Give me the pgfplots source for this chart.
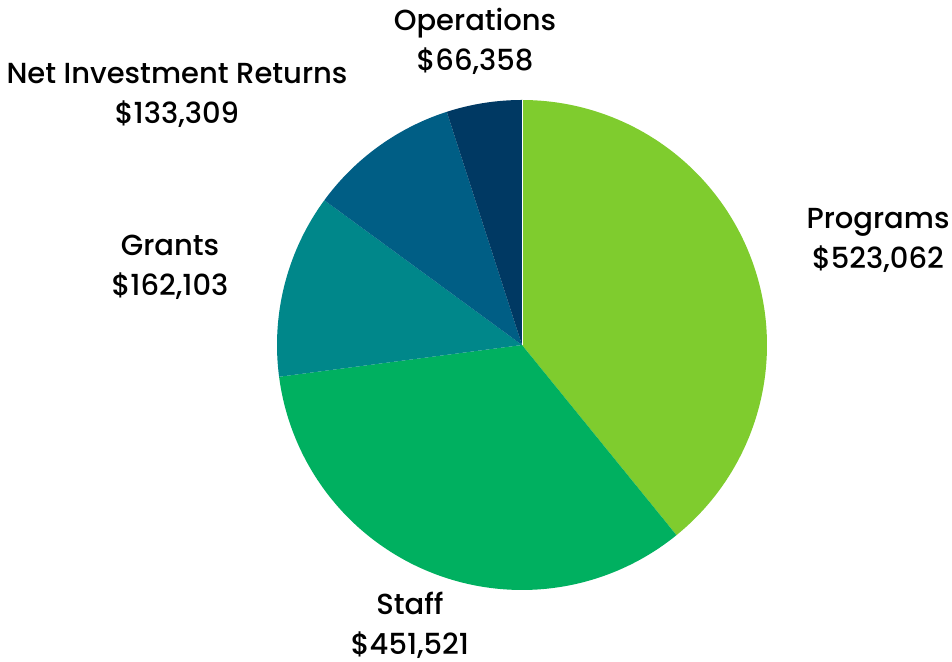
\documentclass[border=0pt]{standalone}
\usepackage{pgfplots}
\pgfplotsset{compat=1.18}
\usepackage{fontspec}
\IfFontExistsTF{Poppins Medium}{\setmainfont{Poppins Medium}}{\setmainfont{Poppins}[FakeBold=0.4]}
\definecolor{cP}{HTML}{7FCC2E}
\definecolor{cS}{HTML}{00B060}
\definecolor{cG}{HTML}{00878A}
\definecolor{cN}{HTML}{005E85}
\definecolor{cO}{HTML}{003963}
% data values
\def\vP{523062}
\def\vS{451521}
\def\vG{162103}
\def\vN{133309}
\def\vO{66358}
\edef\tot{\fpeval{\vP+\vS+\vG+\vN+\vO}}
\edef\aA{\fpeval{90-360*\vP/\tot}}
\edef\aB{\fpeval{\aA-360*\vS/\tot}}
\edef\aC{\fpeval{\aB-360*\vG/\tot}}
\edef\aD{\fpeval{\aC-360*\vN/\tot}}
\edef\aE{\fpeval{\aD-360*\vO/\tot}}
\begin{document}
\begin{tikzpicture}
\begin{axis}[
  width=476pt, height=331pt, scale only axis,
  xmin=0, xmax=952, ymin=0, ymax=662,
  hide axis, clip=false,
]
\path (axis cs:0,0) rectangle (axis cs:952,662);
\addplot[fill=cP, draw=none, domain=\aA:90, samples=100] ({522+245*cos(x)},{317+245*sin(x)}) -- (axis cs:522,317) -- cycle;
\addplot[fill=cS, draw=none, domain=\aB:\aA, samples=100] ({522+245*cos(x)},{317+245*sin(x)}) -- (axis cs:522,317) -- cycle;
\addplot[fill=cG, draw=none, domain=\aC:\aB, samples=50] ({522+245*cos(x)},{317+245*sin(x)}) -- (axis cs:522,317) -- cycle;
\addplot[fill=cN, draw=none, domain=\aD:\aC, samples=50] ({522+245*cos(x)},{317+245*sin(x)}) -- (axis cs:522,317) -- cycle;
\addplot[fill=cO, draw=none, domain=\aE:\aD, samples=30] ({522+245*cos(x)},{317+245*sin(x)}) -- (axis cs:522,317) -- cycle;
\addplot[white, line width=0.3pt] coordinates {(522,317) (522,562)};
\begin{scope}[every node/.style={align=center, inner sep=0pt, font=\fontsize{14.5}{20}\selectfont, text=black}]
\node at (axis cs:475,621) {Operations\\\$66,358};
\node at (axis cs:177,567) {Net Investment Returns\\\$133,309};
\node at (axis cs:170,395) {Grants\\\$162,103};
\node at (axis cs:878,422) {Programs\\\$523,062};
\node at (axis cs:410,37) {Staff\\\$451,521};
\end{scope}
\end{axis}
\end{tikzpicture}
\end{document}
